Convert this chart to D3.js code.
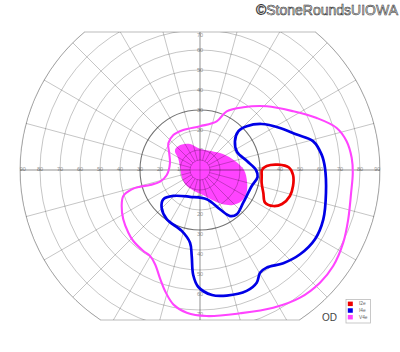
<!DOCTYPE html>
<html><head><meta charset="utf-8">
<script src="https://cdn.jsdelivr.net/npm/d3@7"></script>
<style>html,body{margin:0;padding:0;background:#fff;}svg{display:block;}</style>
</head><body>
<svg id="chart" width="400" height="352"></svg>
<script>
// ---- data (meridian angle in degrees, 0 = right, counter-clockwise; eccentricity in degrees) ----
const ringDegrees = [5, 10, 20, 30, 40, 50, 60, 70, 80, 90];
const meridianStep = 15;
const horizontalTicks = [10, 20, 30, 40, 50, 60, 70, 80, 90];
const upperTicks = [10, 20, 30, 40, 50, 60, 70];
const lowerTicks = [10, 20, 30, 40, 50, 60, 70];
const upperLimit = 69;   // superior field limit (deg)
const lowerLimit = 75;   // inferior field limit (deg)
const outerLimit = 90;

const legendNames = ["I2e", "I4e", "V4e"];
const legendColors = ["#ee0000", "#0000e6", "#ff44ff"];

const isopterI2e = [
  [354.4, 31.0], [0, 31.0], [3.4, 33.4], [3.9, 39.1], [1.6, 44.5], [356.9, 46.6],
  [350.2, 47.2], [343.9, 46.8], [337.5, 44.4], [333.8, 40.8], [333.3, 36.4],
  [340.0, 33.7], [348.1, 31.5]
];

const isopterI4e = [
  [39.4, 22.6], [45.3, 27.2], [43.1, 32.0], [36.7, 38.5], [27.7, 45.2], [20.1, 51.5],
  [14.2, 58.4], [7.2, 61.3], [0.9, 62.5], [349.8, 64.0], [338.2, 66.4], [329.1, 67.1],
  [319.9, 65.4], [311.8, 62.5], [304.3, 59.1], [300.3, 59.5], [296.7, 63.1],
  [291.1, 64.8], [282.0, 64.2], [275.5, 62.8], [269.2, 58.5], [266.3, 52.6],
  [264.5, 43.2], [262.2, 36.7], [253.3, 31.8], [235.9, 29.7], [224.5, 26.9],
  [218.6, 23.5], [224.2, 18.6], [249.5, 14.3], [282.9, 15.0], [296.9, 22.0],
  [303.1, 27.5], [309.6, 28.8], [322.9, 27.1], [342.8, 27.1], [353.1, 29.0],
  [0, 28.0], [10.8, 23.9], [25.9, 20.6]
];

const isopterV4e = [
  [4.5, 76.1], [11.1, 74.7], [17.1, 71.5], [24.0, 63.9], [32.2, 55.1], [43.7, 46.1],
  [55.4, 38.1], [65.5, 32.2], [71.1, 25.7], [90, 21.9], [112.7, 21.7], [127.3, 22.0],
  [139.9, 20.7], [151.5, 17.5], [167.4, 15.4], [188.5, 16.8], [196.3, 20.8],
  [196.7, 26.1], [195.6, 31.1], [195.8, 35.5], [198.7, 40.5], [204.7, 43.1],
  [212.7, 45.6], [221.2, 47.6], [226.8, 48.7], [235.0, 49.4], [239.8, 49.7],
  [244.5, 52.2], [250.1, 58.2], [253.9, 63.0], [258.8, 68.5], [264.7, 71.7],
  [272.6, 73.1], [285.6, 74.4], [298.0, 78.0], [308.1, 81.1], [316.8, 82.3],
  [324.2, 82.1], [333.1, 80.3], [341.6, 78.1], [351.5, 76.4], [358.9, 76.4]
];

const scotomaV4e = [
  [137.5, 16.3], [125.2, 15.6], [111.0, 13.9], [92.7, 10.8], [59.9, 11.0], [34.8, 14.0],
  [14.4, 18.1], [0, 22.0], [345.7, 24.3], [333.7, 25.9], [323.2, 25.9], [313.3, 24.0],
  [302.9, 20.2], [291.8, 16.2], [276.8, 12.6], [254.1, 10.9], [227.0, 10.3],
  [204.0, 9.8], [174.3, 10.0], [151.4, 12.5], [143.5, 15.6]
];

// ---- drawing ----
const cx = 200, cy = 170;
const r = d3.scaleLinear().domain([0, 90]).range([0, 180]);
const rad = a => a * Math.PI / 180;
const px = (ang, ecc) => r(ecc) * Math.cos(rad(ang));
const py = (ang, ecc) => -r(ecc) * Math.sin(rad(ang));

const svg = d3.select("#chart");

// copyright
svg.append("text")
  .attr("x", 398).attr("y", 15)
  .attr("text-anchor", "end")
  .attr("font-family", "Liberation Sans, Arial, sans-serif")
  .attr("font-size", 14)
  .attr("fill", "#e4e4e4").attr("stroke", "#333").attr("stroke-width", 0.55)
  .text("©StoneRoundsUIOWA");

const g = svg.append("g").attr("transform", `translate(${cx},${cy})`);

// field outline path
const R = r(outerLimit), yt = -r(upperLimit), yb = r(lowerLimit);
const xt = Math.sqrt(R * R - yt * yt), xb = Math.sqrt(R * R - yb * yb);
const outline = `M${-xt},${yt}L${xt},${yt}A${R},${R} 0 0 1 ${xb},${yb}L${-xb},${yb}A${R},${R} 0 0 1 ${-xt},${yt}Z`;

svg.append("defs").append("clipPath").attr("id", "field")
  .append("path").attr("d", outline).attr("transform", `translate(${cx},${cy})`);

const field = svg.append("g").attr("clip-path", "url(#field)")
  .append("g").attr("transform", `translate(${cx},${cy})`);

const radial = d3.lineRadial()
  .angle(d => rad(90 - d[0]))
  .radius(d => r(d[1]))
  .curve(d3.curveCatmullRomClosed.alpha(0.5));

// scotoma fill (below grid)
field.append("path").datum(scotomaV4e)
  .attr("d", radial).attr("fill", "#ff44ff").attr("stroke", "none");

// grid
const gridColor = "rgba(0,0,0,0.27)";
field.selectAll("circle.ring").data(ringDegrees).join("circle")
  .attr("class", "ring")
  .attr("r", d => r(d)).attr("fill", "none")
  .attr("stroke", d => d === 30 ? "rgba(0,0,0,0.55)" : gridColor)
  .attr("stroke-width", d => d === 30 ? 1.1 : 0.85);

const meridians = d3.range(0, 360, meridianStep);
field.selectAll("line.mer").data(meridians).join("line")
  .attr("class", "mer")
  .attr("x1", d => px(d, 5)).attr("y1", d => py(d, 5))
  .attr("x2", d => px(d, 100)).attr("y2", d => py(d, 100))
  .attr("stroke", gridColor).attr("stroke-width", 0.85);

// axes through center
field.append("line").attr("x1", -r(100)).attr("x2", r(100)).attr("y1", 0).attr("y2", 0)
  .attr("stroke", gridColor).attr("stroke-width", 0.85);
field.append("line").attr("y1", -r(100)).attr("y2", r(100)).attr("x1", 0).attr("x2", 0)
  .attr("stroke", gridColor).attr("stroke-width", 0.85);

// outline
g.append("path").attr("d", outline).attr("fill", "none")
  .attr("stroke", "rgba(0,0,0,0.27)").attr("stroke-width", 1);

// isopters
const lineStyles = [
  { data: isopterV4e, color: legendColors[2], w: 2.1 },
  { data: isopterI4e, color: legendColors[1], w: 2.7 },
  { data: isopterI2e, color: legendColors[0], w: 2.7 }
];
lineStyles.forEach(s => {
  field.append("path").datum(s.data)
    .attr("d", radial).attr("fill", "none")
    .attr("stroke", s.color).attr("stroke-width", s.w)
    .attr("stroke-linejoin", "round");
});

// tick labels
const labelFont = { family: "Liberation Sans, Arial, sans-serif", size: 5.5, color: "#999" };
function tick(x, y, t) {
  g.append("text").attr("x", x).attr("y", y)
    .attr("text-anchor", "middle").attr("dominant-baseline", "central")
    .attr("font-family", labelFont.family).attr("font-size", labelFont.size)
    .attr("fill", labelFont.color).text(t);
}
horizontalTicks.forEach(d => {
  const off = d === 90 ? -2.7 : 0;
  tick(-(r(d) + off), -1, d);
  tick(r(d) + off, -1, d);
});
upperTicks.forEach(d => {
  const y = d === 70 ? -r(upperLimit) + 3 : -r(d);
  tick(0, y, d);
});
lowerTicks.forEach(d => tick(0, r(d) + 4.3, d));

// OD
svg.append("text").attr("x", 322).attr("y", 320.5)
  .attr("font-family", "Liberation Sans, Arial, sans-serif").attr("font-size", 10)
  .attr("fill", "#444").text("OD");

// legend
const legend = svg.append("g").attr("transform", "translate(346,299.5)");
legend.append("rect").attr("x", 0).attr("y", 0).attr("width", 24.5).attr("height", 23.5)
  .attr("fill", "#fff").attr("stroke", "#bbb").attr("stroke-width", 0.8);
const ly = d3.scaleBand().domain(legendNames).range([1.8, 21.8]);
legendNames.forEach((n, i) => {
  legend.append("rect").attr("x", 1.8).attr("y", ly(n) + 0.3)
    .attr("width", 5).attr("height", 4.5).attr("fill", legendColors[i]);
  legend.append("text").attr("x", 13).attr("y", ly(n) + 2.6)
    .attr("dominant-baseline", "central")
    .attr("font-family", "Liberation Sans, Arial, sans-serif").attr("font-size", 4.8)
    .attr("fill", "#666").text(n);
});
</script>
</body></html>
